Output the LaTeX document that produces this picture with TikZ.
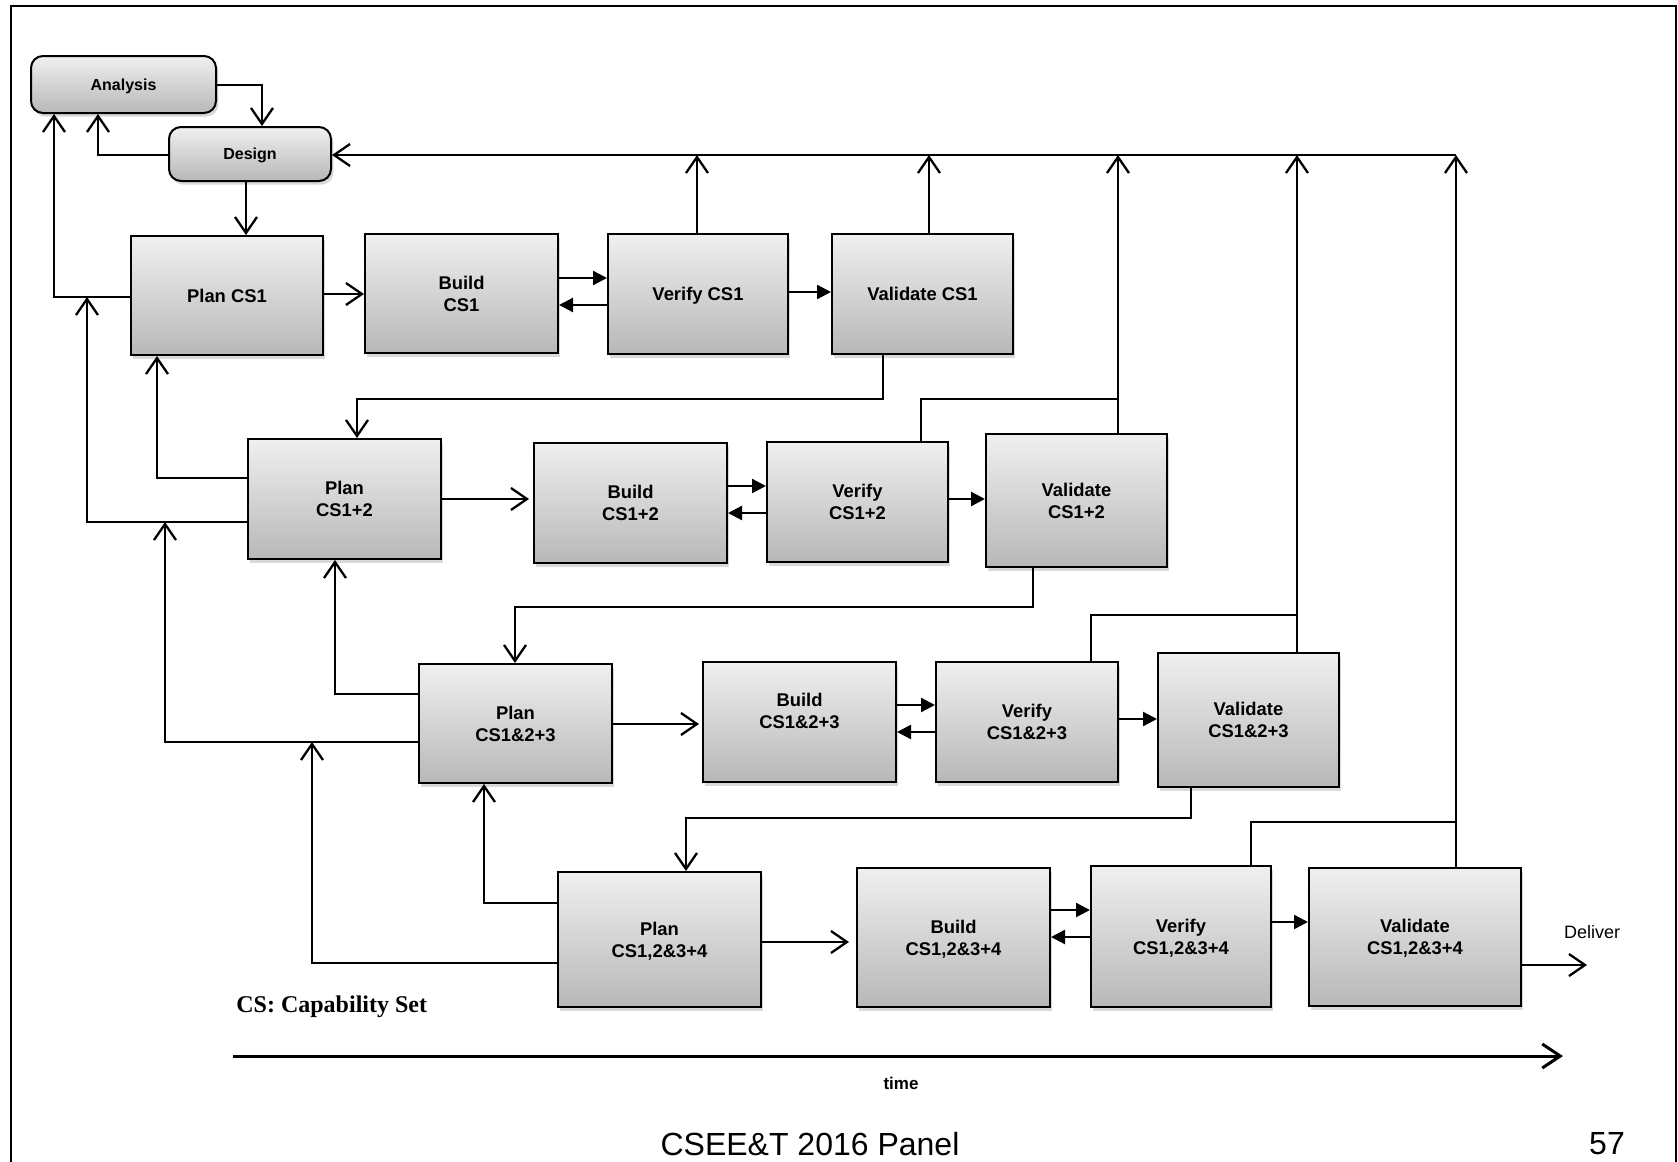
\documentclass[tikz,border=0pt]{standalone}
\usepackage{fontspec}
\setmainfont{Liberation Sans}
\newfontfamily\timesfont{Liberation Serif}
\usetikzlibrary{arrows.meta,shadows}
\begin{document}
\begin{tikzpicture}[x=0.5pt,y=-0.5pt,
  box/.style={draw=black, line width=1pt, top color=black!6, bottom color=black!28, align=center,
    font=\bfseries\fontsize{9.2}{11}\selectfont, inner sep=0pt, text depth=0pt,
    drop shadow={shadow xshift=1.2pt, shadow yshift=-1.8pt, opacity=0.3}},
  rbox/.style={box, rounded corners=6pt, font=\bfseries\fontsize{8}{10}\selectfont},
  conn/.style={line width=1.15pt},
  oarr/.style={conn, -{Straight Barb[length=8pt,width=11pt]}},
  farr/.style={conn, -{Triangle[length=7pt,width=7pt]}},
  lbl/.style={inner sep=0pt}
]
\useasboundingbox (0,0) rectangle (1678,1162);
\draw[line width=1pt] (11,1162) -- (11,6) -- (1676,6) -- (1676,1162);

% nodes
\node[rbox, minimum width=92.5pt, minimum height=28.5pt] (ana) at (123.5,84.5) {Analysis};
\node[rbox, minimum width=81pt, minimum height=27pt] (des) at (250,154) {Design};

\node[box, minimum width=96pt, minimum height=59.5pt] (planA) at (227,295.5) {Plan CS1};
\node[box, minimum width=96.5pt, minimum height=59.5pt] (buildA) at (461.5,293.5) {Build\\CS1};
\node[box, minimum width=90pt, minimum height=60pt] (verA) at (698,294) {Verify CS1};
\node[box, minimum width=90.5pt, minimum height=60pt] (valA) at (922.5,294) {Validate CS1};

\node[box, minimum width=96.5pt, minimum height=60pt] (planB) at (344.5,499) {Plan\\CS1+2};
\node[box, minimum width=96.5pt, minimum height=60pt] (buildB) at (630.5,503) {Build\\CS1+2};
\node[box, minimum width=90.5pt, minimum height=60pt] (verB) at (857.5,502) {Verify\\CS1+2};
\node[box, minimum width=90.5pt, minimum height=66.5pt] (valB) at (1076.5,500.5) {Validate\\CS1+2};

\node[box, minimum width=96.5pt, minimum height=59.5pt] (planC) at (515.5,723.5) {Plan\\CS1\&2+3};
\node[box, minimum width=96.5pt, minimum height=60pt] (buildC) at (799.5,722) {Build\\CS1\&2+3\\[0pt]\mbox{}};
\node[box, minimum width=91pt, minimum height=60pt] (verC) at (1027,722) {Verify\\CS1\&2+3};
\node[box, minimum width=90.5pt, minimum height=67pt] (valC) at (1248.5,720) {Validate\\CS1\&2+3};

\node[box, minimum width=101.5pt, minimum height=67.5pt] (planD) at (659.5,939.5) {Plan\\CS1,2\&3+4};
\node[box, minimum width=96.5pt, minimum height=69.5pt] (buildD) at (953.5,937.5) {Build\\CS1,2\&3+4};
\node[box, minimum width=90pt, minimum height=70.5pt] (verD) at (1181,936.5) {Verify\\CS1,2\&3+4};
\node[box, minimum width=106pt, minimum height=69pt] (valD) at (1415,937) {Validate\\CS1,2\&3+4};

% analysis / design
\draw[oarr] (ana.east |- 0,85) -| (des.north -| 262,0);
\draw[oarr] (des.west |- 0,155) -| (ana.south -| 98,0);
\draw[oarr] (des.south -| 246,0) -- (planA.north -| 246,0);

% top return line
\draw[oarr] (1456,155) -- (des.east |- 0,155);
\draw[oarr] (verA.north -| 697,0) -- (697,155);
\draw[oarr] (valA.north -| 929,0) -- (929,155);
\draw[oarr] (valB.north -| 1118,0) -- (1118,155);
\draw[oarr] (valC.north -| 1297,0) -- (1297,155);
\draw[oarr] (valD.north -| 1456,0) -- (1456,155);
\draw[conn] (verB.north -| 921,0) |- (1118,399);
\draw[conn] (verC.north -| 1091,0) |- (1297,615);
\draw[conn] (verD.north -| 1251,0) |- (1456,822);

% validate -> next plan
\draw[oarr] (valA.south -| 883,0) |- (357,399) -- (planB.north -| 357,0);
\draw[oarr] (valB.south -| 1033,0) |- (515,607) -- (planC.north -| 515,0);
\draw[oarr] (valC.south -| 1191,0) |- (686,818) -- (planD.north -| 686,0);

% row 1
\draw[oarr] (planA.east |- 0,294) -- (buildA.west |- 0,294);
\draw[farr] (buildA.east |- 0,278) -- (verA.west |- 0,278);
\draw[farr] (verA.west |- 0,305) -- (buildA.east |- 0,305);
\draw[farr] (verA.east |- 0,292) -- (valA.west |- 0,292);
% row 2
\draw[oarr, shorten >=2pt] (planB.east |- 0,499) -- (buildB.west |- 0,499);
\draw[farr] (buildB.east |- 0,486) -- (verB.west |- 0,486);
\draw[farr] (verB.west |- 0,513) -- (buildB.east |- 0,513);
\draw[farr] (verB.east |- 0,499) -- (valB.west |- 0,499);
% row 3
\draw[oarr, shorten >=1.5pt] (planC.east |- 0,724) -- (buildC.west |- 0,724);
\draw[farr] (buildC.east |- 0,705) -- (verC.west |- 0,705);
\draw[farr] (verC.west |- 0,732) -- (buildC.east |- 0,732);
\draw[farr] (verC.east |- 0,719) -- (valC.west |- 0,719);
% row 4
\draw[oarr, shorten >=3.5pt] (planD.east |- 0,942) -- (buildD.west |- 0,942);
\draw[farr] (buildD.east |- 0,910) -- (verD.west |- 0,910);
\draw[farr] (verD.west |- 0,937) -- (buildD.east |- 0,937);
\draw[farr] (verD.east |- 0,922) -- (valD.west |- 0,922);

% left feedback lines
\coordinate (j1) at (87,297);
\coordinate (j2) at (165,522);
\coordinate (j3) at (312,742);
\draw[oarr] (planA.west |- 0,297) -| (ana.south -| 54,0);
\draw[oarr] (planB.west |- 0,478) -| (planA.south -| 157,0);
\draw[oarr] (planB.west |- 0,522) -| (j1);
\draw[oarr] (planC.west |- 0,694) -| (planB.south -| 335,0);
\draw[oarr] (planC.west |- 0,742) -| (j2);
\draw[oarr] (planD.west |- 0,903) -| (planC.south -| 484,0);
\draw[oarr] (planD.west |- 0,963) -| (j3);

% deliver
\coordinate (dlv) at (1587,965);
\draw[oarr] (valD.east |- 0,965) -- (dlv);
\node[lbl, font=\fontsize{9}{11}\selectfont] (delivtxt) at (1592,932) {Deliver};

% legend and time axis
\node[lbl, anchor=west, font=\timesfont\bfseries\fontsize{12}{14}\selectfont] (cslbl) at (236,1007) {CS: Capability Set};
\coordinate (t0) at (233,1056);
\coordinate (t1) at (1563,1056);
\draw[line width=1.5pt, -{Straight Barb[length=9pt,width=12pt]}] (t0) -- (t1);
\node[lbl, font=\bfseries\fontsize{8.5}{10}\selectfont] (timelbl) at (901,1083) {time};

\node[lbl, font=\fontsize{16}{18}\selectfont] (footer) at (810,1144) {CSEE\&T 2016 Panel};
\node[lbl, font=\fontsize{16}{18}\selectfont] (pagenum) at (1607,1144) {57};
\end{tikzpicture}
\end{document}
